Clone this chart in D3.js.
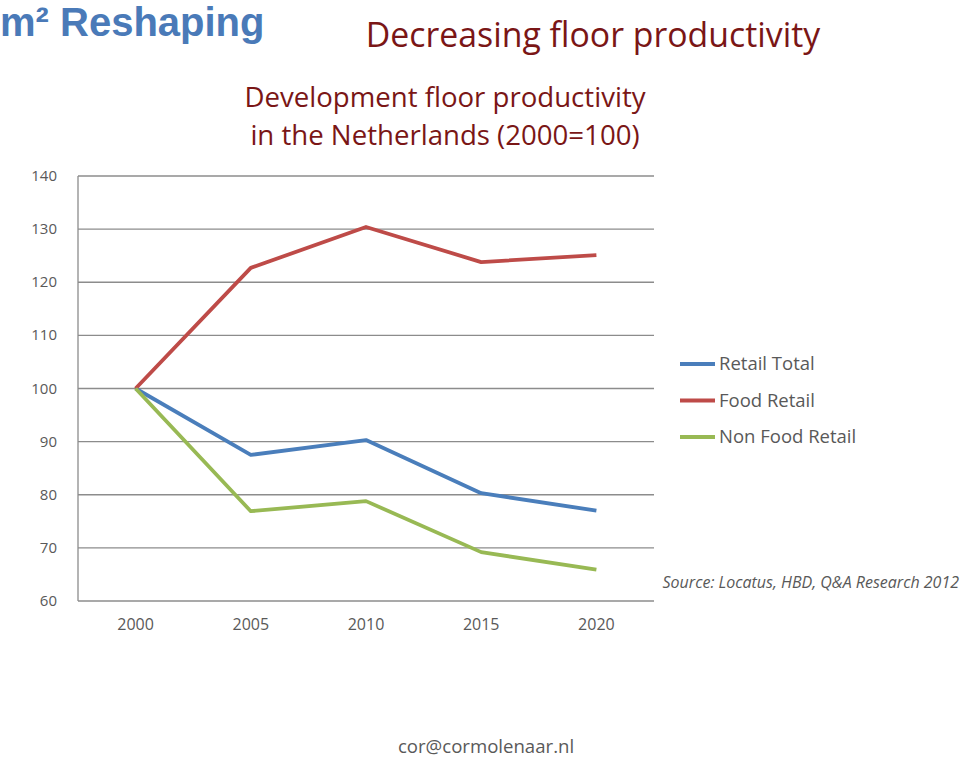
<!DOCTYPE html>
<html><head><meta charset="utf-8">
<script src="https://cdn.jsdelivr.net/npm/d3@7"></script>
<style>body{margin:0;background:#fff}svg{display:block}</style>
</head><body>
<script>
const years = ["2000","2005","2010","2015","2020"];
const retailTotal = [100, 87.5, 90.3, 80.3, 77.0];
const foodRetail = [100, 122.7, 130.4, 123.8, 125.1];
const nonFoodRetail = [100, 76.9, 78.8, 69.2, 65.9];
const yTicks = [60,70,80,90,100,110,120,130,140];
const seriesNames = ["Retail Total","Food Retail","Non Food Retail"];
const seriesColors = ["#4a7ebb","#be4b48","#98b954"];
const seriesData = [retailTotal, foodRetail, nonFoodRetail];

const W=960,H=760;
const svg=d3.select("body").append("svg").attr("width",W).attr("height",H);
const font="'Open Sans', 'Noto Sans', sans-serif";
const x=d3.scalePoint().domain(years).range([78,654]).padding(0.5);
const y=d3.scaleLinear().domain([60,140]).range([601,176]);

svg.append("g").selectAll("line").data(yTicks.filter(d=>d>60)).join("line")
  .attr("x1",78).attr("x2",654).attr("y1",d=>y(d)).attr("y2",d=>y(d))
  .attr("stroke","#8c8c8c").attr("stroke-width",1.3);
svg.append("line").attr("x1",78).attr("x2",78).attr("y1",176).attr("y2",601).attr("stroke","#8c8c8c").attr("stroke-width",1.3);
svg.append("line").attr("x1",78).attr("x2",654).attr("y1",601).attr("y2",601).attr("stroke","#8c8c8c").attr("stroke-width",1.3);

svg.append("g").selectAll("text").data(yTicks).join("text")
  .attr("x",57).attr("y",d=>y(d)+5).attr("text-anchor","end")
  .attr("font-family",font).attr("font-size",15).attr("fill","#595959").text(d=>d);
svg.append("g").selectAll("text").data(years).join("text")
  .attr("x",d=>x(d)).attr("y",630).attr("text-anchor","middle")
  .attr("font-family",font).attr("font-size",16).attr("fill","#595959").text(d=>d);

const line=d3.line().x((d,i)=>x(years[i])).y(d=>y(d));
seriesData.forEach((s,i)=>{
  svg.append("path").attr("d",line(s)).attr("fill","none")
    .attr("stroke",seriesColors[i]).attr("stroke-width",3.8).attr("stroke-linejoin","round");
});

seriesNames.forEach((n,i)=>{
  const ly=364+i*36.5;
  svg.append("line").attr("x1",680).attr("x2",715).attr("y1",ly).attr("y2",ly)
    .attr("stroke",seriesColors[i]).attr("stroke-width",3.8);
  svg.append("text").attr("x",719).attr("y",ly+6).attr("font-family",font)
    .attr("font-size",18.5).attr("fill","#595959").text(n);
});

svg.append("text").attr("x",0).attr("y",36).attr("font-family","'Liberation Sans', Arial, sans-serif")
  .attr("font-weight","bold").attr("font-size",40).attr("fill","#4a7ab8").text("m² Reshaping");
svg.append("text").attr("x",593).attr("y",47).attr("text-anchor","middle").attr("font-family",font)
  .attr("font-size",33.8).attr("fill","#7a1616").text("Decreasing floor productivity");
svg.append("text").attr("x",445).attr("y",107).attr("text-anchor","middle").attr("font-family",font)
  .attr("font-size",27.6).attr("fill","#7a1616").text("Development floor productivity");
svg.append("text").attr("x",445).attr("y",145).attr("text-anchor","middle").attr("font-family",font)
  .attr("font-size",27.6).attr("fill","#7a1616").text("in the Netherlands (2000=100)");

svg.append("text").attr("x",959).attr("y",588).attr("text-anchor","end").attr("font-family",font)
  .attr("font-style","italic").attr("font-size",16).attr("fill","#595959").text("Source: Locatus, HBD, Q&A Research 2012");
svg.append("text").attr("x",486).attr("y",753).attr("text-anchor","middle").attr("font-family",font)
  .attr("font-size",18.6).attr("fill","#595959").text("cor@cormolenaar.nl");
</script>
</body></html>
